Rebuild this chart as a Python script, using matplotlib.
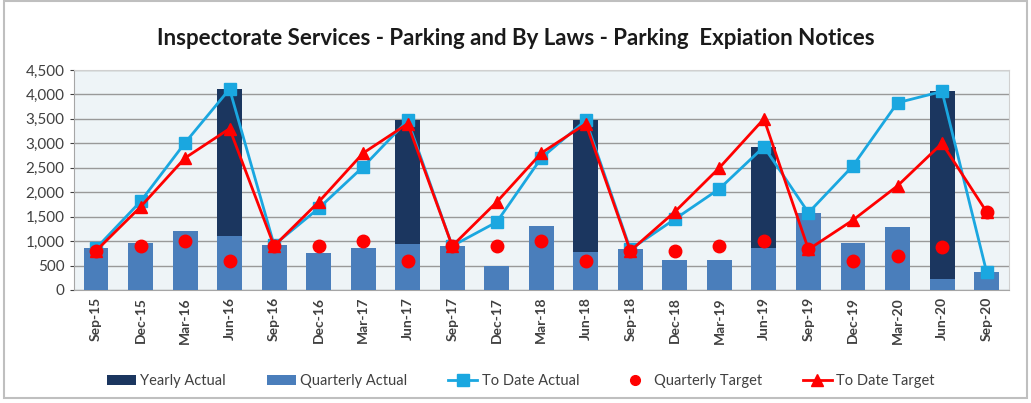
import matplotlib
matplotlib.use('Agg')
import matplotlib.pyplot as plt
import numpy as np
from matplotlib.lines import Line2D
from matplotlib.patches import Patch, Rectangle
from matplotlib.ticker import FuncFormatter


# ================================== Data ====================================

quarters = ['Sep-15', 'Dec-15', 'Mar-16', 'Jun-16', 'Sep-16', 'Dec-16', 'Mar-17',
            'Jun-17', 'Sep-17', 'Dec-17', 'Mar-18', 'Jun-18', 'Sep-18', 'Dec-18',
            'Mar-19', 'Jun-19', 'Sep-19', 'Dec-19', 'Mar-20', 'Jun-20', 'Sep-20']

# yearly totals only reported at June quarters
yearly_actual = [0, 0, 0, 4110, 0, 0, 0, 3470, 0, 0, 0, 3470, 0, 0, 0,
                 2930, 0, 0, 0, 4060, 0]
quarterly_actual = [850, 960, 1200, 1100, 920, 750, 850, 950, 900, 490, 1310,
                    770, 830, 620, 620, 860, 1580, 960, 1290, 230, 370]
to_date_actual = [850, 1810, 3010, 4110, 920, 1670, 2520, 3470, 900, 1390, 2700,
                  3470, 830, 1450, 2070, 2930, 1580, 2540, 3830, 4060, 370]
quarterly_target = [800, 900, 1000, 600, 900, 900, 1000, 600, 900, 900, 1000,
                    600, 800, 800, 900, 1000, 830, 600, 700, 870, 1600]
to_date_target = [800, 1700, 2700, 3300, 900, 1800, 2800, 3400, 900, 1800, 2800,
                  3400, 800, 1600, 2500, 3500, 830, 1430, 2130, 3000, 1600]

TITLE = 'Inspectorate Services - Parking and By Laws - Parking  Expiation Notices'

# ================================== Styles ==================================

NAVY = '#1b365f'
BLUE = '#4a7ebb'
CYAN = '#1aa7e0'
RED = '#ff0000'
TEXT = '#404040'


def main():
    plt.rcParams['font.family'] = ['Lato', 'DejaVu Sans']

    fig = plt.figure(figsize=(10.31, 4.03), dpi=100)
    fig.patch.set_facecolor('white')

    # outer chart frame
    fig.add_artist(Rectangle((0.004, 0.012), 0.992, 0.985, transform=fig.transFigure,
                             fill=False, edgecolor='#bfbfbf', linewidth=1.5))

    ax = fig.add_axes([0.0715, 0.2804, 0.907, 0.546])
    ax.set_facecolor('#eef4f7')

    x = np.arange(len(quarters))
    width = 0.56

    ax.bar(x, yearly_actual, width, color=NAVY, zorder=2)
    ax.bar(x, quarterly_actual, width, color=BLUE, zorder=3)

    ax.plot(x, to_date_actual, color=CYAN, lw=2, marker='s', ms=9,
            markeredgecolor=CYAN, zorder=4)
    ax.plot(x, to_date_target, color=RED, lw=2, marker='^', ms=8,
            markeredgecolor=RED, zorder=5)
    ax.plot(x, quarterly_target, ls='none', marker='o', ms=9, color=RED, zorder=6)

    ax.set_xlim(-0.5, len(quarters) - 0.5)
    ax.set_ylim(0, 4500)
    ax.set_yticks(np.arange(0, 4501, 500))
    ax.yaxis.set_major_formatter(FuncFormatter(lambda v, p: f'{int(v):,}'))
    ax.grid(axis='y', color='#999999', lw=1, zorder=0)
    ax.set_axisbelow(True)

    ax.set_xticks(x)
    ax.set_xticklabels(quarters, rotation=90, fontsize=10, fontweight='bold',
                       color=TEXT)
    ax.tick_params(axis='y', labelsize=11, colors=TEXT, length=3)
    ax.tick_params(axis='x', length=0, pad=5)

    for side in ['top', 'right']:
        ax.spines[side].set_color('#d0d0d0')
    for side in ['left', 'bottom']:
        ax.spines[side].set_color('#a6a6a6')

    fig.text(0.5, 0.905, TITLE, ha='center', va='center', fontsize=16,
             fontweight='bold', color='#1a1a1a')

    handles = [
        Patch(facecolor=NAVY, label='Yearly Actual'),
        Patch(facecolor=BLUE, label='Quarterly Actual'),
        Line2D([], [], color=CYAN, lw=2, marker='s', ms=8, label='To Date Actual'),
        Line2D([], [], color=RED, ls='none', marker='o', ms=7, label='Quarterly Target'),
        Line2D([], [], color=RED, lw=2, marker='^', ms=8, label='To Date Target'),
    ]
    fig.legend(handles=handles, loc='center', bbox_to_anchor=(0.505, 0.055), ncol=5,
               frameon=False, fontsize=10.5, handlelength=2.0, handletextpad=0.3,
               columnspacing=2.8, labelcolor=TEXT)

    fig.savefig('out.png', dpi=100, facecolor='white')


if __name__ == '__main__':
    main()
